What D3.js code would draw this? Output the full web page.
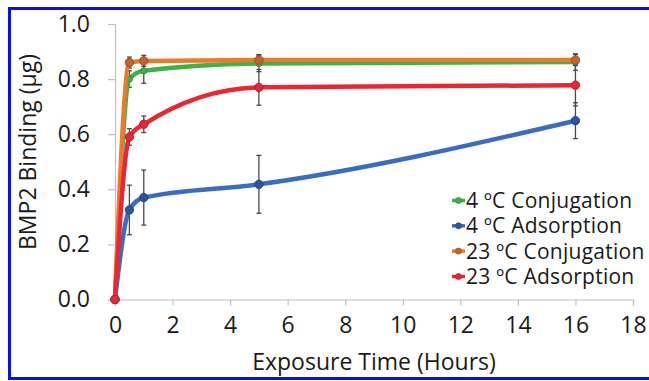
<!DOCTYPE html>
<html>
<head>
<meta charset="utf-8">
<script src="https://cdn.jsdelivr.net/npm/d3@7"></script>
<style>
  html, body { margin: 0; padding: 0; background: #fff; }
  svg { display: block; }
  text { font-family: "Open Sans", "Liberation Sans", sans-serif; fill: #1a1a1a; }
</style>
</head>
<body>
<svg id="chart" width="649" height="381"></svg>
<script>
// ---- data ----
const times = [0, 0.5, 1, 5, 16];
const seriesNames = ["4 ºC Conjugation", "4 ºC Adsorption", "23 ºC Conjugation", "23 ºC Adsorption"];
const conj4 = [0, 0.80, 0.83, 0.857, 0.862];
const ads4 = [0, 0.325, 0.37, 0.418, 0.649];
const conj23 = [0, 0.86, 0.866, 0.869, 0.869];
const ads23 = [0, 0.59, 0.636, 0.770, 0.778];
const conj4Err = [0, 0.03, 0.045, 0.03, 0.03];
const ads4Err = [0, 0.09, 0.10, 0.105, 0.065];
const conj23Err = [0, 0.02, 0.02, 0.02, 0.02];
const ads23Err = [0, 0.03, 0.03, 0.065, 0.075];
const xTicks = [0, 2, 4, 6, 8, 10, 12, 14, 16, 18];
const yTicks = [0, 0.2, 0.4, 0.6, 0.8, 1.0];
const xTitle = "Exposure Time (Hours)";
const yTitle = "BMP2 Binding (µg)";
const colors = ["#3db24a", "#3a6cc2", "#e87b2c", "#ea2630"];
const markerFill = ["#3db24a", "#2e5599", "#c4632a", "#e0283a"];
const markerStroke = ["#2f8f3a", "#244a88", "#9c4d22", "#c41e2b"];

const svg = d3.select("#chart");
const x = d3.scaleLinear().domain([0, 18]).range([115, 633]);
const y = d3.scaleLinear().domain([0, 1]).range([299.5, 24]);

// border
svg.append("rect").attr("x", 9.5).attr("y", 8.5).attr("width", 650).attr("height", 370)
  .attr("fill", "none").attr("stroke", "#0a0aff").attr("stroke-width", 3);

// axes
const axisColor = "#c0c0c0";
const yAxis = svg.append("g").attr("transform", `translate(${x(0)},0)`)
  .call(d3.axisLeft(y).tickValues(yTicks).tickSize(7).tickFormat(d3.format(".1f")).tickPadding(18));
yAxis.select(".domain").attr("stroke", axisColor).attr("stroke-width", 1.2);
yAxis.selectAll(".tick line").attr("stroke", axisColor).attr("stroke-width", 1.2);
yAxis.selectAll(".tick text").attr("font-size", 23).attr("font-family", '"Open Sans", sans-serif').attr("fill", "#1a1a1a");

const xAxis = svg.append("g").attr("transform", `translate(0,${y(0)})`)
  .call(d3.axisBottom(x).tickValues(xTicks).tickSize(6).tickFormat(d3.format("d")).tickPadding(11));
xAxis.select(".domain").attr("stroke", axisColor).attr("stroke-width", 1.2);
xAxis.selectAll(".tick line").attr("stroke", axisColor).attr("stroke-width", 1.2);
xAxis.selectAll(".tick text").attr("font-size", 23).attr("font-family", '"Open Sans", sans-serif').attr("fill", "#1a1a1a");

// titles
svg.append("text").attr("x", (x(0) + x(18)) / 2).attr("y", 370).attr("text-anchor", "middle")
  .attr("font-size", 23).text(xTitle);
svg.append("text").attr("transform", "translate(36,152) rotate(-90)").attr("text-anchor", "middle")
  .attr("font-size", 23).text(yTitle);

const allVals = [conj4, ads4, conj23, ads23];
const allErr = [conj4Err, ads4Err, conj23Err, ads23Err];

// error bars
allVals.forEach((vals, si) => {
  const g = svg.append("g");
  times.forEach((t, i) => {
    const e = allErr[si][i];
    if (!e) return;
    const cx = x(t), y1 = y(vals[i] + e), y2 = y(vals[i] - e);
    g.append("line").attr("x1", cx).attr("x2", cx).attr("y1", y1).attr("y2", y2)
      .attr("stroke", "#4a4a4a").attr("stroke-width", 1.3);
    [y1, y2].forEach(yy => g.append("line").attr("x1", cx - 2.5).attr("x2", cx + 2.5)
      .attr("y1", yy).attr("y2", yy).attr("stroke", "#4a4a4a").attr("stroke-width", 1.3));
  });
});

// lines
const line = d3.line().x(d => x(d[0])).y(d => y(d[1])).curve(d3.curveMonotoneX);
allVals.forEach((vals, si) => {
  const pts = times.map((t, i) => [t, vals[i]]);
  svg.append("path").datum(pts).attr("d", line).attr("fill", "none")
    .attr("stroke", colors[si]).attr("stroke-width", 4.5).attr("stroke-linejoin", "round");
  svg.selectAll(null).data(pts).enter().append("circle")
    .attr("cx", d => x(d[0])).attr("cy", d => y(d[1])).attr("r", si === 0 ? 3 : 4.2)
    .attr("fill", markerFill[si]).attr("stroke", markerStroke[si]).attr("stroke-width", 1);
});

// legend
const legY = [208, 233.3, 258.6, 284];
seriesNames.forEach((name, si) => {
  const cy = legY[si] - 7.5;
  svg.append("line").attr("x1", 452).attr("x2", 465).attr("y1", cy).attr("y2", cy)
    .attr("stroke", colors[si]).attr("stroke-width", 3.5);
  svg.append("circle").attr("cx", 458.5).attr("cy", cy).attr("r", 3)
    .attr("fill", markerFill[si]).attr("stroke", markerStroke[si]).attr("stroke-width", 0.8);
  svg.append("text").attr("x", 466).attr("y", legY[si]).attr("font-size", 21)
    .attr("font-family", "Lato, sans-serif").attr("letter-spacing", 0.25).text(name);
});
</script>
</body>
</html>
